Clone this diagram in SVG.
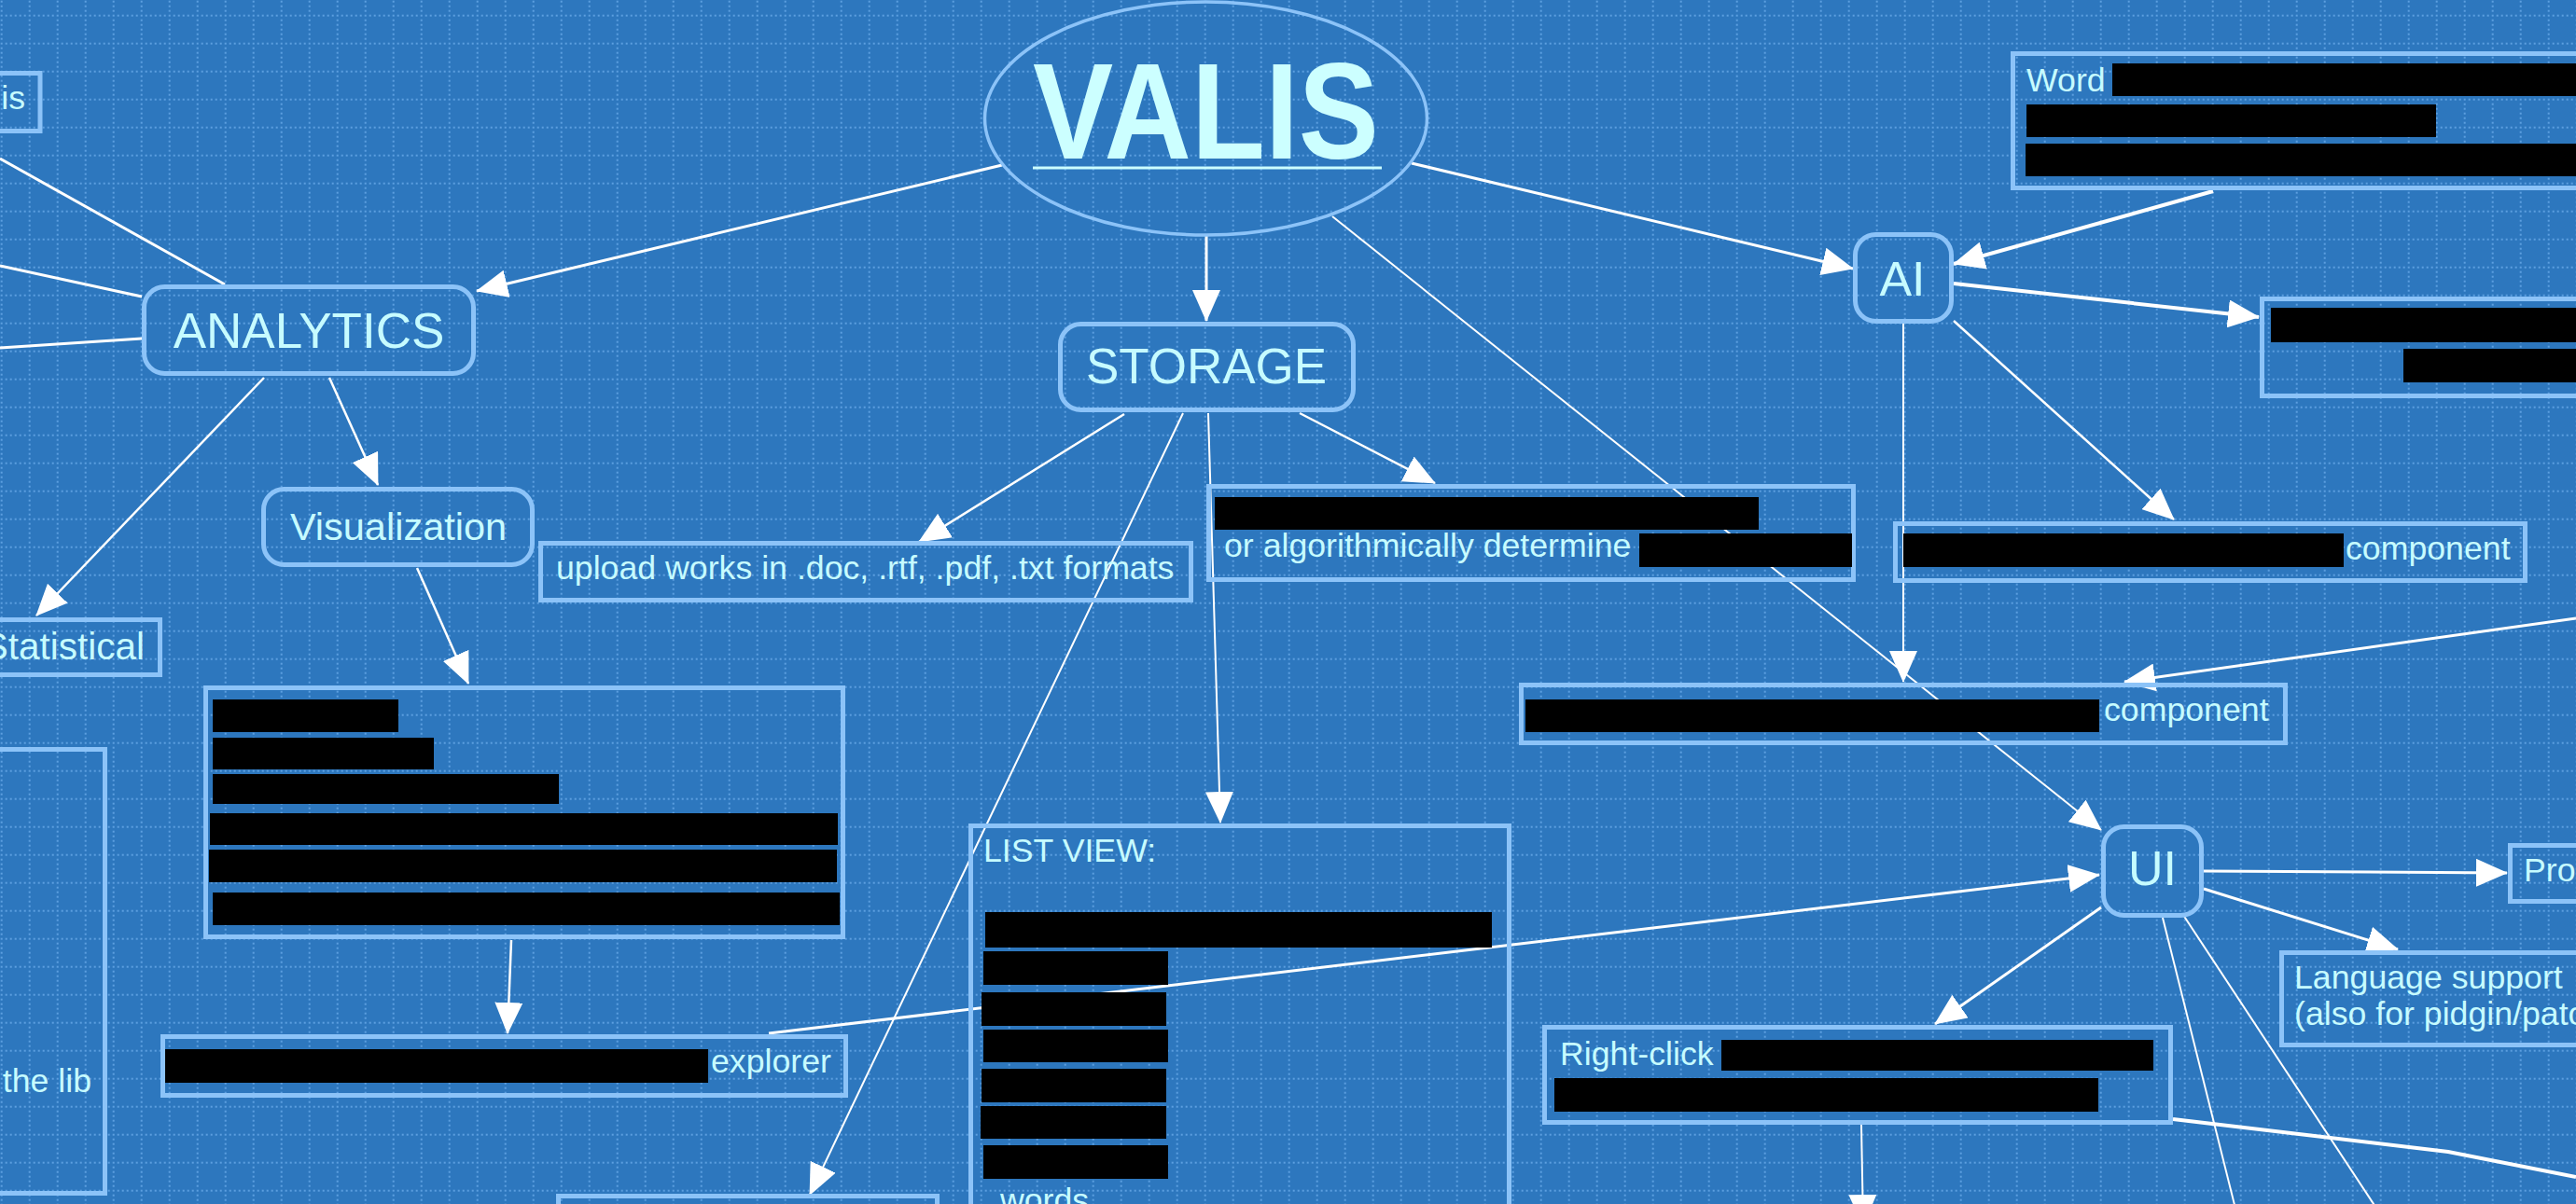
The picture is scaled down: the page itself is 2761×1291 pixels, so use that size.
<svg xmlns="http://www.w3.org/2000/svg" width="2761" height="1291" viewBox="0 0 2761 1291">
<defs>
<pattern id="grid" width="30" height="30" patternUnits="userSpaceOnUse" x="0.7" y="15.7">
<line x1="0" y1="1" x2="30" y2="1" stroke="#5c9fe0" stroke-width="2" stroke-dasharray="2 3"/>
<line x1="1" y1="0" x2="1" y2="30" stroke="#5c9fe0" stroke-width="2" stroke-dasharray="2 3"/>
</pattern>
<marker id="arr" markerUnits="userSpaceOnUse" markerWidth="34" markerHeight="30" refX="33" refY="15" orient="auto">
<path d="M0,0 L34,15 L0,30 z" fill="#ffffff"/>
</marker>
</defs>
<style>
.bg{fill:#2d77be}
.c{stroke:#ffffff;fill:none;stroke-width:3}
.t2{stroke-width:2}
.t25{stroke-width:2.5}
.t4{stroke-width:4}
.a{marker-end:url(#arr)}
.box{fill:none;stroke:#8cc3f8;stroke-width:5}
.red{fill:#000000}
.tx{font-family:"Liberation Sans",Arial,sans-serif;font-size:35.7px;fill:#c6fbff}
.big{font-family:"Liberation Sans",Arial,sans-serif;font-size:53px;fill:#c6fbff;text-anchor:middle}
</style>
<rect class="bg" x="0" y="0" width="2761" height="1291"/>
<rect x="0" y="0" width="2761" height="1291" fill="url(#grid)"/>

<g id="connectors">
<line class="c" x1="0" y1="170" x2="241" y2="305"/>
<line class="c" x1="0" y1="285" x2="152" y2="318"/>
<line class="c" x1="0" y1="373" x2="152" y2="363"/>
<line class="c a" x1="1074" y1="177" x2="511" y2="312"/>
<line class="c a" x1="1293" y1="253" x2="1293" y2="344"/>
<line class="c a" x1="1513" y1="175" x2="1986" y2="288"/>
<line class="c t2 a" x1="1428" y1="232" x2="2252" y2="890"/>
<line class="c t4 a" x1="2372" y1="205" x2="2094" y2="283"/>
<line class="c t4 a" x1="2094" y1="304" x2="2421" y2="340"/>
<line class="c t25 a" x1="2094" y1="344" x2="2330" y2="557"/>
<line class="c t2 a" x1="2040" y1="347" x2="2040" y2="731"/>
<line class="c a" x1="2761" y1="663" x2="2277" y2="731"/>
<line class="c a" x1="2362" y1="934" x2="2687" y2="936"/>
<line class="c a" x1="2362" y1="953" x2="2570" y2="1018"/>
<line class="c a" x1="2252" y1="973" x2="2074" y2="1098"/>
<line class="c t2 a" x1="1995" y1="1206" x2="1997" y2="1314"/>
<polyline class="c t4" points="2329,1200 2624,1235 2761,1262"/>
<line class="c t2" x1="2318" y1="984" x2="2397" y2="1300"/>
<line class="c t2" x1="2340" y1="981" x2="2550" y2="1300"/>
<line class="c a" x1="824" y1="1108" x2="2250" y2="938"/>
<line class="c t25 a" x1="353" y1="405" x2="405" y2="520"/>
<line class="c t25 a" x1="283" y1="405" x2="39" y2="660"/>
<line class="c t25 a" x1="447" y1="609" x2="502" y2="733"/>
<line class="c t25 a" x1="548" y1="1008" x2="544" y2="1108"/>
<line class="c t25 a" x1="1205" y1="444" x2="985" y2="581"/>
<line class="c t2 a" x1="1295" y1="443" x2="1308" y2="882"/>
<line class="c t2 a" x1="1268" y1="443" x2="868" y2="1281"/>
<line class="c t25 a" x1="1393" y1="443" x2="1538" y2="518"/>
</g>

<g id="valis">
<ellipse cx="1292.5" cy="127" rx="237" ry="125" fill="none" stroke="#8cc3f8" stroke-width="3.5"/>
<text x="1107" y="170" textLength="371" lengthAdjust="spacingAndGlyphs" style="font-family:'Liberation Sans',Arial,sans-serif;font-size:147px;font-weight:bold;fill:#ccffff">VALIS</text>
<line x1="1107" y1="180" x2="1481" y2="180" stroke="#ccffff" stroke-width="3"/>
</g>

<g id="analytics">
<rect class="box" x="154.5" y="307.5" width="353" height="93" rx="22"/>
<text class="big" x="331" y="373">ANALYTICS</text>
</g>
<g id="storage">
<rect class="box" x="1136.5" y="347.5" width="314" height="92" rx="22"/>
<text class="big" x="1293" y="411">STORAGE</text>
</g>
<g id="ai">
<rect class="box" x="1988.5" y="251.5" width="103" height="93" rx="22"/>
<text class="big" x="2039" y="317" style="font-size:52px">AI</text>
</g>
<g id="ui">
<rect class="box" x="2254.5" y="886.5" width="105" height="95" rx="22"/>
<text class="big" x="2307" y="949" style="font-size:52px">UI</text>
</g>
<g id="visualization">
<rect class="box" x="282.5" y="524.5" width="288" height="81" rx="22"/>
<text class="tx" x="427" y="579" style="font-size:41.5px;text-anchor:middle">Visualization</text>
</g>

<g id="is-box">
<rect class="box" x="-10" y="78.5" width="53" height="62"/>
<text class="tx" x="27" y="117" style="text-anchor:end">is</text>
</g>
<g id="statistical">
<rect class="box" x="-10" y="664.5" width="181.5" height="59"/>
<text class="tx" x="155" y="707" style="font-size:40.5px;text-anchor:end">Statistical</text>
</g>
<g id="lib-box">
<rect class="box" x="-10" y="803.5" width="122.5" height="476"/>
<text class="tx" x="98" y="1171" style="text-anchor:end">the lib</text>
</g>
<g id="vis-detail">
<rect class="box" x="220.5" y="737.5" width="683" height="267"/>
<rect class="red" x="228" y="750" width="199" height="35"/>
<rect class="red" x="228" y="791" width="237" height="34"/>
<rect class="red" x="228" y="830" width="371" height="32"/>
<rect class="red" x="225" y="872" width="673" height="34"/>
<rect class="red" x="224" y="911" width="673" height="35"/>
<rect class="red" x="228" y="957" width="672" height="35"/>
</g>
<g id="explorer">
<rect class="box" x="174.5" y="1111.5" width="732" height="63"/>
<rect class="red" x="177" y="1125" width="582" height="36"/>
<text class="tx" x="762" y="1150">explorer</text>
</g>
<g id="upload">
<rect class="box" x="579.5" y="582.5" width="697" height="61"/>
<text class="tx" x="596" y="621">upload works in .doc, .rtf, .pdf, .txt formats</text>
</g>
<g id="algo">
<rect class="box" x="1295.5" y="521.5" width="691" height="100"/>
<rect class="red" x="1302" y="533" width="583" height="35"/>
<text class="tx" x="1312" y="597">or algorithmically determine</text>
<rect class="red" x="1757" y="572" width="228" height="36"/>
</g>
<g id="list-view">
<rect class="box" x="1040.5" y="885.5" width="577" height="500"/>
<text class="tx" x="1054" y="924">LIST VIEW:</text>
<rect class="red" x="1056" y="978" width="543" height="38"/>
<rect class="red" x="1054" y="1020" width="198" height="36"/>
<rect class="red" x="1052" y="1064" width="198" height="36"/>
<rect class="red" x="1054" y="1104" width="198" height="35"/>
<rect class="red" x="1052" y="1146" width="198" height="36"/>
<rect class="red" x="1051" y="1186" width="199" height="35"/>
<rect class="red" x="1054" y="1228" width="198" height="36"/>
<text class="tx" x="1072" y="1299">words</text>
</g>
<g id="bottom-box">
<rect class="box" x="598.5" y="1282.5" width="406" height="100"/>
</g>
<g id="word-box">
<rect class="box" x="2157.5" y="57.5" width="700" height="144"/>
<text class="tx" x="2172" y="98">Word</text>
<rect class="red" x="2264" y="68" width="500" height="35"/>
<rect class="red" x="2172" y="112" width="439" height="35"/>
<rect class="red" x="2171" y="154" width="590" height="35"/>
</g>
<g id="ai-right">
<rect class="box" x="2424.5" y="320.5" width="400" height="104"/>
<rect class="red" x="2434" y="330" width="330" height="37"/>
<rect class="red" x="2576" y="374" width="190" height="36"/>
</g>
<g id="component1">
<rect class="box" x="2031.5" y="561.5" width="675" height="61"/>
<rect class="red" x="2040" y="572" width="472" height="36"/>
<text class="tx" x="2514" y="600">component</text>
</g>
<g id="component2">
<rect class="box" x="1630.5" y="734.5" width="819" height="62"/>
<rect class="red" x="1635" y="750" width="615" height="35"/>
<text class="tx" x="2255" y="773">component</text>
</g>
<g id="pro">
<rect class="box" x="2690.5" y="906.5" width="200" height="60"/>
<text class="tx" x="2705" y="945">Pro</text>
</g>
<g id="language">
<rect class="box" x="2445.5" y="1021.5" width="400" height="99"/>
<text class="tx" x="2459" y="1060">Language support</text>
<text class="tx" x="2459" y="1099">(also for pidgin/pato</text>
</g>
<g id="right-click">
<rect class="box" x="1655.5" y="1101.5" width="671" height="102"/>
<text class="tx" x="1672" y="1142">Right-click</text>
<rect class="red" x="1845" y="1115" width="463" height="33"/>
<rect class="red" x="1666" y="1156" width="583" height="36"/>
</g>
</svg>
